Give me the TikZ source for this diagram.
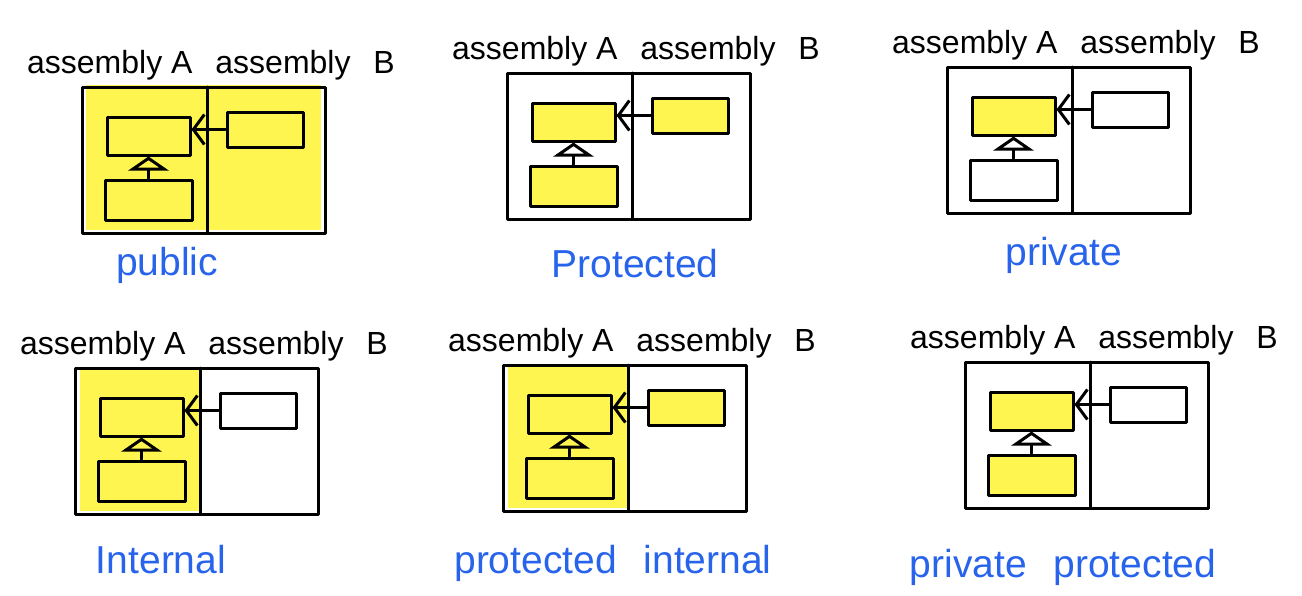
\documentclass[tikz,border=0pt]{standalone}
\usepackage{fontspec}
\setmainfont{Liberation Sans}
\usetikzlibrary{arrows.meta}
\definecolor{hl}{RGB}{255,245,80}
\definecolor{lblue}{RGB}{40,100,235}
\tikzset{
  pen/.style={line width=3pt, line cap=round, line join=round},
  cls/.style={pen, draw, rectangle, inner sep=0pt},
  framebox/.style={pen, draw, rectangle, inner sep=0pt, minimum width=243pt, minimum height=146pt},
  assoc/.style={pen, -{Straight Barb[length=11pt,width=30pt]}},
  inh/.style={pen, -{Triangle[open,length=14pt,width=40pt]}},
  ttl/.style={font=\fontsize{32}{34}\selectfont, anchor=base, inner sep=0pt},
  lab/.style={font=\fontsize{39}{41}\selectfont, text=lblue, anchor=base, inner sep=0pt},
}
\newcommand\yfull{\fill[hl] (4,-2) rectangle (239,143);}
\newcommand\yleft{\fill[hl] (5,0) rectangle (127,143);}
% #1 prefix, #2 x, #3 y, #4 background, #5 box1 fill, #6 box2 fill, #7 box B fill
\newcommand\accpanel[7]{%
  \begin{scope}[shift={(#2,#3)}]
    #4
    \node[ttl] (#1t) at (129,-14) {assembly A\hspace{14pt} assembly\hspace{14pt} B};
    \node[framebox] (#1f) at (121.5,73) {};
    \draw[pen] (125,0) -- (125,146);
    \node[cls, minimum width=83pt, minimum height=38pt, #5] (#1a) at (66.5,49) {};
    \node[cls, minimum width=87pt, minimum height=40pt, #6] (#1c) at (66.5,113) {};
    \node[cls, minimum width=76pt, minimum height=35pt, #7] (#1b) at (183,42.5) {};
    \draw[assoc] (#1b.west) -- (#1b.west -| #1a.east);
    \draw[inh] (#1c.north) -- (#1a.south);
  \end{scope}}
\begin{document}
\begin{tikzpicture}[x=1pt, y=-1pt]
  \useasboundingbox (0,0) rectangle (1302,595);
  \accpanel{p}{82}{87}{\yfull}{}{}{}
  \accpanel{q}{507}{73}{}{fill=hl}{fill=hl}{fill=hl}
  \accpanel{r}{947}{67}{}{fill=hl}{}{}
  \accpanel{s}{75}{368}{\yleft}{}{}{}
  \accpanel{t}{503}{365}{\yleft}{}{}{fill=hl}
  \accpanel{u}{965}{362}{}{fill=hl}{fill=hl}{}
  \node[lab] (lp) at (167,275) {public};
  \node[lab] (lq) at (635,277) {Protected};
  \node[lab] (lr) at (1064,265) {private};
  \node[lab] (ls) at (161,573) {Internal};
  \node[lab] (lt) at (613,573) {protected\hspace{16pt} internal};
  \node[lab] (lu) at (1063,577) {private\hspace{16pt} protected};
\end{tikzpicture}
\end{document}
